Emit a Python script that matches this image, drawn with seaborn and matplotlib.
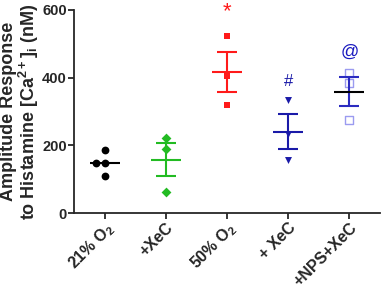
import numpy as np
import pandas as pd
import seaborn as sns
import matplotlib.pyplot as plt

# Data
groups = ['21% O$_2$', '+XeC', '50% O$_2$', '+ XeC', '+NPS+XeC']
o2_21 = [185, 148, 148, 110]
xec = [222, 189, 61]
o2_50 = [524, 405, 319]
o2_50_xec = [333, 232, 157]
nps_xec = [415, 385, 274]
values = [o2_21, xec, o2_50, o2_50_xec, nps_xec]
marks = ['', '', '*', '#', '@']
mark_y = [None, None, 596, 390, 474]
mark_size = [12, 12, 16, 12, 13]

colors = ['black', '#22bb22', '#ff1a1a', '#1a1aa8', '#9b9bf0']
bar_colors = ['black', '#22bb22', '#ff1a1a', '#1a1aa8', '#2b2bc0']
mean_colors = ['black', '#22bb22', '#ff1a1a', '#1a1aa8', 'black']
markers = ['o', 'D', 's', 'v', 's']
show_err = [False, True, True, True, True]

df = pd.DataFrame({
    'Group': [g for g, v in zip(groups, values) for _ in v],
    'Value': [x for v in values for x in v],
})

sns.set_style('ticks')
plt.rcParams['font.family'] = ['Liberation Sans', 'DejaVu Sans']
plt.rcParams['font.weight'] = 'bold'
plt.rcParams['mathtext.default'] = 'regular'

fig = plt.figure(figsize=(3.83, 2.93), dpi=100)
ax = fig.add_axes([0.193, 0.273, 0.799, 0.693])

for i, g in enumerate(groups):
    sub = df[df['Group'] == g]
    if i == 4:
        sns.swarmplot(data=sub, x='Group', y='Value', order=groups, ax=ax,
                      marker=markers[i], color='white', edgecolor=colors[i],
                      linewidth=1.0, size=5.2, zorder=2)
    else:
        sns.swarmplot(data=sub, x='Group', y='Value', order=groups, ax=ax,
                      marker=markers[i], color=colors[i], linewidth=0,
                      size=5.6 if markers[i] == 'o' else 5, zorder=3)
    v = np.array(values[i], dtype=float)
    m = v.mean()
    se = v.std(ddof=1) / np.sqrt(len(v))
    if show_err[i]:
        ax.errorbar(i, m, yerr=se, color=bar_colors[i], capsize=7.5,
                    capthick=1.5, elinewidth=1.5, fmt='none', zorder=4)
    ax.hlines(m, i - 0.245, i + 0.245, color=mean_colors[i], lw=1.5, zorder=4)
    if marks[i]:
        ax.text(i, mark_y[i], marks[i], color=bar_colors[i] if i != 4 else '#1a1ac0',
                ha='center', va='center', fontsize=mark_size[i],
                fontweight='normal', clip_on=False)

ax.set_xlim(-0.5, 4.5)
ax.set_ylim(0, 600)
ax.set_yticks([0, 200, 400, 600])
ax.set_xlabel('')
ax.set_ylabel('Amplitude Response\nto Histamine [Ca$^{2+}$]$_i$ (nM)',
              fontsize=13, fontweight='bold', labelpad=1, linespacing=1.0)
ax.tick_params(axis='y', labelsize=10.5, width=1.3, length=4, pad=1)
ax.tick_params(axis='x', labelsize=11.5, width=1.3, length=4, pad=1)
plt.setp(ax.get_xticklabels(), rotation=45, ha='right', rotation_mode='anchor',
         fontweight='bold')
plt.setp(ax.get_yticklabels(), fontweight='bold')
for s in ['left', 'bottom']:
    ax.spines[s].set_linewidth(1.3)
sns.despine(ax=ax)

fig.savefig('out.png', dpi=100)
